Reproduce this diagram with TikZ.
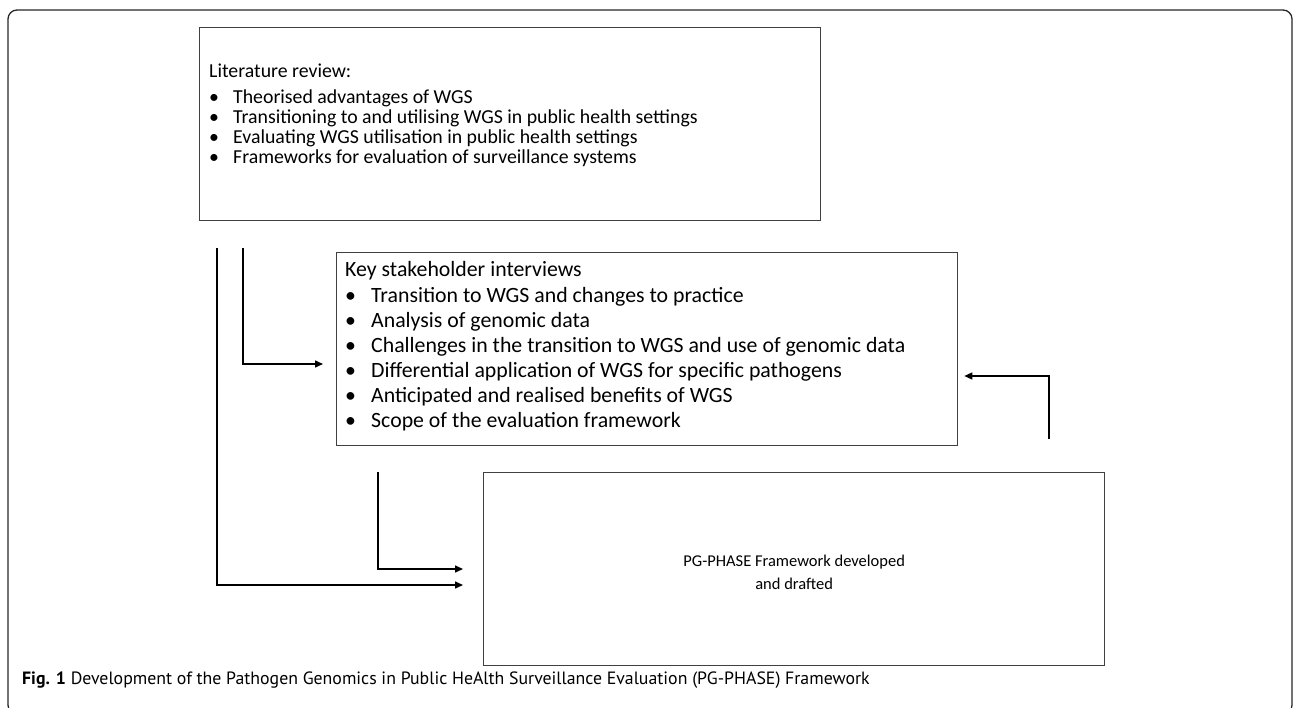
\documentclass[tikz,border=0pt]{standalone}
\usepackage{fontspec}
\setmainfont{Carlito}
\newfontfamily\capfont{PT Sans}
\usetikzlibrary{arrows.meta,positioning}

\begin{document}
\begin{tikzpicture}[x=1pt,y=-1pt,
    box/.style={draw=black!75,line width=1.3pt,anchor=north west,
      minimum width=621pt,minimum height=193pt,inner sep=0pt},
    litline/.style={anchor=base west,inner sep=0pt,font=\fontsize{19.8}{22}\selectfont},
    keyline/.style={anchor=base west,inner sep=0pt,font=\fontsize{21.8}{25}\selectfont},
    flow/.style={draw=black,line width=1.5pt,-{Triangle[length=8pt,width=7pt]}}]
  \useasboundingbox (0,0) rectangle (1295,708);
  \clip (0,0) rectangle (1295,708);
  \draw[black!85,line width=1.3pt,rounded corners=9pt] (8,10) rectangle (1292,714);

  \node[box] (lit) at (199,27) {};
  \node[box] (key) at (336,252) {};
  \node[box] (fw) at (483,472) {};

  \node[litline] (lithead) at (209,78) {Literature review:};
  \foreach \t [count=\i] in {Theorised advantages of WGS,
      Transitioning to and utilising WGS in public health settings,
      Evaluating WGS utilisation in public health settings,
      Frameworks for evaluation of surveillance systems}
    \node[litline] (lit\i) at (209,{104+20*(\i-1)}) {\makebox[24pt][l]{\textbullet}\t};

  \node[keyline] (keyhead) at (345,277) {Key stakeholder interviews};
  \foreach \t [count=\i] in {Transition to WGS and changes to practice,
      Analysis of genomic data,
      Challenges in the transition to WGS and use of genomic data,
      Differential application of WGS for specific pathogens,
      Anticipated and realised benefits of WGS,
      Scope of the evaluation framework}
    \node[keyline] (key\i) at (345,{302.5+25*(\i-1)}) {\makebox[26pt][l]{\textbullet}\t};

  \node[align=center,inner sep=0pt,font=\fontsize{16.5}{23}\selectfont] (fwtext) at ([yshift=-3pt]fw.center)
    {PG-PHASE Framework developed\\and drafted};

  \coordinate (s1) at (217,248);
  \coordinate (s2) at (243,248);
  \coordinate (s3) at (378,472);
  \coordinate (s4) at (1049,439);
  \coordinate (t1) at (fw.west |- 0,585);
  \coordinate (t2) at (key.west |- 0,364);
  \coordinate (t3) at (fw.west |- 0,569);
  \coordinate (t4) at (key.east |- 0,376);

  \draw[flow,shorten >=20pt] (s1) |- (t1);
  \draw[flow,shorten >=13pt] (s2) |- (t2);
  \draw[flow,shorten >=20pt] (s3) |- (t3);
  \draw[flow,shorten >=6pt] (s4) |- (t4);

  \node[anchor=base west,inner sep=0pt,font=\capfont\fontsize{17.8}{20}\selectfont] (cap) at (22,684)
    {\textbf{Fig. 1} Development of the Pathogen Genomics in Public HeAlth Surveillance Evaluation (PG-PHASE) Framework};
\end{tikzpicture}
\end{document}
